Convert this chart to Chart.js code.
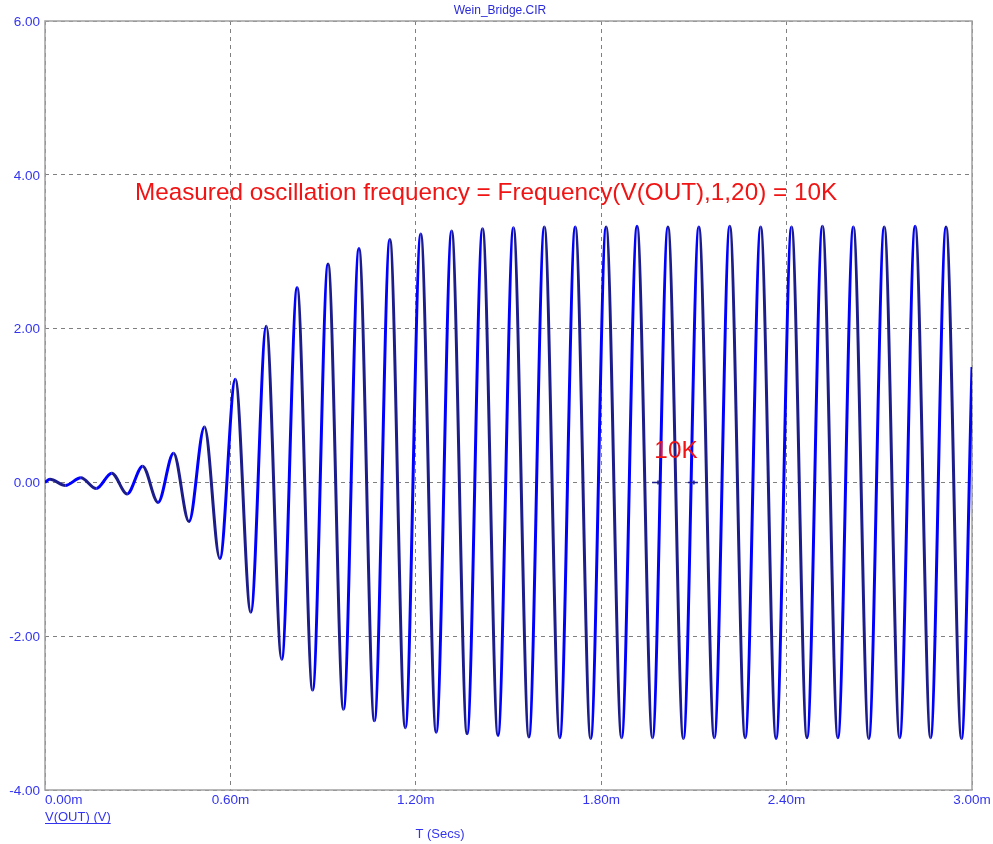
<!DOCTYPE html>
<html>
<head>
<meta charset="utf-8">
<title>Wein_Bridge.CIR</title>
<script src="https://cdn.jsdelivr.net/npm/chart.js@4.4.1/dist/chart.umd.min.js"></script>
<style>
    html, body { margin: 0; padding: 0; background: #ffffff; }
    #wrap { width: 993px; height: 844px; }
</style>
</head>
<body>
<div id="wrap"><canvas id="scope" width="993" height="844"></canvas></div>
<script>
// Transient run of the Wien bridge oscillator, V(OUT) against time (ms).
// Points are the peaks and troughs of each cycle; the curve between them
// is filled in by Chart.js monotone interpolation.
const TIMES = [
    0.000,
    0.016, 0.066, 0.116, 0.166, 0.216, 0.266, 0.316, 0.366, 0.416, 0.466,
    0.516, 0.566, 0.616, 0.666, 0.716, 0.766, 0.816, 0.866, 0.916, 0.966,
    1.016, 1.066, 1.116, 1.166, 1.216, 1.266, 1.316, 1.366, 1.416, 1.466,
    1.516, 1.566, 1.616, 1.666, 1.716, 1.766, 1.816, 1.866, 1.916, 1.966,
    2.016, 2.066, 2.116, 2.166, 2.216, 2.266, 2.316, 2.366, 2.416, 2.466,
    2.516, 2.566, 2.616, 2.666, 2.716, 2.766, 2.816, 2.866, 2.916, 2.966,
    3.000
];
const VOUT = [
    0.00,
    0.04, -0.04, 0.06, -0.08, 0.12, -0.15, 0.21, -0.26, 0.38, -0.51,
    0.72, -0.99, 1.34, -1.69, 2.03, -2.30, 2.53, -2.70, 2.84, -2.95,
    3.04, -3.10, 3.16, -3.19, 3.23, -3.25, 3.27, -3.27, 3.30, -3.29,
    3.31, -3.31, 3.32, -3.32, 3.32, -3.33, 3.32, -3.32, 3.33, -3.32,
    3.32, -3.33, 3.32, -3.32, 3.33, -3.32, 3.32, -3.33, 3.32, -3.32,
    3.33, -3.32, 3.32, -3.33, 3.32, -3.32, 3.33, -3.32, 3.32, -3.33,
    1.50
];

// Axis ticks
const X_TICKS = [0, 0.6, 1.2, 1.8, 2.4, 3.0];
const X_LABELS = ['0.00m', '0.60m', '1.20m', '1.80m', '2.40m', '3.00m'];
const Y_TICKS = [-4, -2, 0, 2, 4, 6];
const Y_LABELS = ['-4.00', '-2.00', '0.00', '2.00', '4.00', '6.00'];

// Cursor marks and measurement text
const CURSOR_TIMES = [1.984, 2.100];
const MEASURE_TEXT = 'Measured oscillation frequency = Frequency(V(OUT),1,20) = 10K';
const CURSOR_TEXT = '10K';

const COLORS = {
    trace: '#0000ff',
    traceDark: '#1c1c8a',
    label: '#3434f0',
    grid: '#808080',
    frame: '#a0a0a0',
    note: '#f01414'
};
const FONT = '"Liberation Sans", Arial, sans-serif';

// Frame round the plot area
const framePlugin = {
    id: 'frame',
    beforeDatasetsDraw(chart) {
        const { ctx, chartArea: a } = chart;
        ctx.save();
        ctx.strokeStyle = COLORS.frame;
        ctx.lineWidth = 1.5;
        ctx.strokeRect(a.left, a.top, a.right - a.left, a.bottom - a.top);
        ctx.restore();
    }
};

// Tick labels, captions and the measurement notes
const labelPlugin = {
    id: 'labels',
    afterDraw(chart) {
        const { ctx, chartArea: a } = chart;
        const xs = chart.scales.x;
        const ys = chart.scales.y;
        ctx.save();

        // y tick labels, right aligned left of the frame
        ctx.fillStyle = COLORS.label;
        ctx.font = '13.5px ' + FONT;
        ctx.textAlign = 'right';
        ctx.textBaseline = 'middle';
        Y_TICKS.forEach((v, i) => {
            ctx.fillText(Y_LABELS[i], a.left - 5, ys.getPixelForValue(v) + 1);
        });

        // x tick labels under the frame
        X_TICKS.forEach((v, i) => {
            ctx.textAlign = i === 0 ? 'left' : 'center';
            ctx.fillText(X_LABELS[i], xs.getPixelForValue(v), a.bottom + 10);
        });

        // trace name, underlined
        ctx.textAlign = 'left';
        ctx.font = '13px ' + FONT;
        const name = 'V(OUT) (V)';
        ctx.fillText(name, a.left, a.bottom + 27);
        const w = ctx.measureText(name).width;
        ctx.fillRect(a.left, a.bottom + 33, w, 1);

        // x axis caption and file name
        ctx.textAlign = 'center';
        ctx.fillText('T (Secs)', 440, a.bottom + 44);
        ctx.font = '12px ' + FONT;
        ctx.fillStyle = '#2a2ad8';
        ctx.fillText('Wein_Bridge.CIR', 500, 11);

        // cursor marks on the zero line
        ctx.strokeStyle = COLORS.traceDark;
        ctx.lineWidth = 1.5;
        CURSOR_TIMES.forEach(t => {
            const px = xs.getPixelForValue(t);
            const py = ys.getPixelForValue(0);
            ctx.beginPath();
            ctx.moveTo(px - 6, py);
            ctx.lineTo(px + 4, py);
            ctx.moveTo(px, py - 2);
            ctx.lineTo(px, py + 2);
            ctx.stroke();
        });

        // measurement results in red
        ctx.fillStyle = COLORS.note;
        ctx.font = '24.3px ' + FONT;
        ctx.textAlign = 'left';
        ctx.fillText(MEASURE_TEXT, xs.getPixelForValue(0.291), ys.getPixelForValue(3.76));
        ctx.textAlign = 'center';
        ctx.fillText(CURSOR_TEXT, xs.getPixelForValue(2.042), ys.getPixelForValue(0.40));

        ctx.restore();
    }
};

function buildChart() {
    const ctx = document.getElementById('scope').getContext('2d');
    const points = TIMES.map((t, i) => ({ x: t, y: VOUT[i] }));

    return new Chart(ctx, {
        type: 'line',
        data: {
            datasets: [{
                label: 'V(OUT) (V)',
                data: points,
                borderColor: COLORS.trace,
                borderWidth: 3,
                pointRadius: 0,
                cubicInterpolationMode: 'monotone',
                fill: false,
                segment: {
                    borderColor: c => (c.p0DataIndex % 2 ? COLORS.traceDark : COLORS.trace)
                }
            }]
        },
        options: {
            responsive: false,
            animation: false,
            events: [],
            layout: { padding: { left: 45, right: 21, top: 21, bottom: 54 } },
            plugins: {
                legend: { display: false },
                tooltip: { enabled: false }
            },
            scales: {
                x: {
                    type: 'linear',
                    min: 0,
                    max: 3,
                    afterBuildTicks: s => { s.ticks = X_TICKS.map(v => ({ value: v })); },
                    ticks: { display: false },
                    grid: { color: COLORS.grid, lineWidth: 1, drawTicks: false },
                    border: { display: false, dash: [4, 4] }
                },
                y: {
                    type: 'linear',
                    min: -4,
                    max: 6,
                    afterBuildTicks: s => { s.ticks = Y_TICKS.map(v => ({ value: v })); },
                    ticks: { display: false },
                    grid: { color: COLORS.grid, lineWidth: 1, drawTicks: false },
                    border: { display: false, dash: [4, 4] }
                }
            }
        },
        plugins: [framePlugin, labelPlugin]
    });
}

document.addEventListener('DOMContentLoaded', () => {
    buildChart();
});
</script>
</body>
</html>
